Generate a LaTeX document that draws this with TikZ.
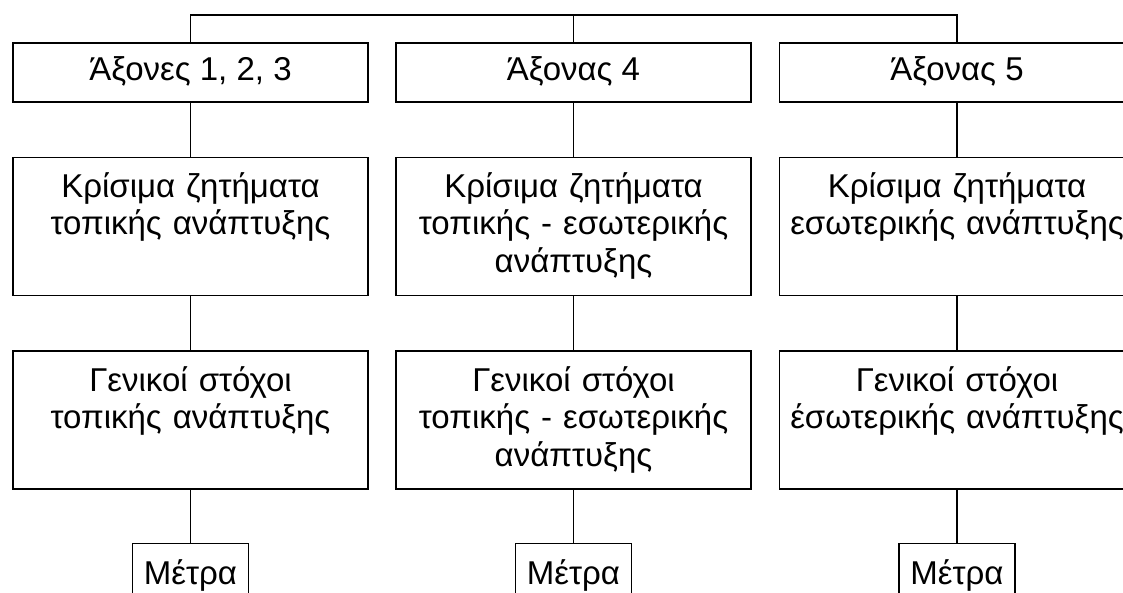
\documentclass[tikz,border=0pt]{standalone}
\usepackage{fontspec}
\setmainfont{Liberation Sans}
\usetikzlibrary{positioning}

\begin{document}
\begin{tikzpicture}[x=1pt, y=1pt, line width=1.6pt, node distance=54pt,
    font=\fontsize{33}{37.5}\selectfont,
    axis/.style = {draw, minimum width=355pt, inner sep=0pt, text height=38pt, text depth=21pt},
    issue/.style = {draw, text width=349pt, align=center, inner xsep=3pt, inner ysep=0pt, text height=40pt, text depth=98pt},
    measure/.style = {draw, minimum width=116pt, inner sep=0pt, text height=41pt, text depth=20pt}]
    \useasboundingbox (0,0) rectangle (1123,-592);

    \node[axis, anchor=north] (a1) at (190.5,-42) {Άξονες 1, 2, 3};
    \node[axis, anchor=north] (a2) at (573.5,-42) {Άξονας 4};
    \node[axis, anchor=north] (a3) at (957,-42) {Άξονας 5};
    \coordinate (bus) at (0,-15);

    \node[issue] (k1)[below=of a1]{Κρίσιμα ζητήματα\\τοπικής ανάπτυξης};
    \node[issue] (k2)[below=of a2]{Κρίσιμα ζητήματα\\τοπικής - εσωτερικής\\ανάπτυξης};
    \node[issue] (k3)[below=of a3]{Κρίσιμα ζητήματα\\εσωτερικής ανάπτυξης};

    \node[issue] (g1)[below=of k1]{Γενικοί στόχοι\\τοπικής ανάπτυξης};
    \node[issue] (g2)[below=of k2]{Γενικοί στόχοι\\τοπικής - εσωτερικής\\ανάπτυξης};
    \node[issue] (g3)[below=of k3]{Γενικοί στόχοι\\έσωτερικής ανάπτυξης};

    \node[measure] (m1)[below=53pt of g1]{Μέτρα};
    \node[measure] (m2)[below=53pt of g2]{Μέτρα};
    \node[measure] (m3)[below=53pt of g3]{Μέτρα};

    \draw (a1.north) |- (a3.north |- bus) -- (a3.north);
    \draw (a2.north) -- (a2.north |- bus);

    \path
    (a1) edge (k1)
    (a2) edge (k2)
    (a3) edge (k3)

    (k1) edge (g1)
    (k2) edge (g2)
    (k3) edge (g3)

    (g1) edge (m1)
    (g2) edge (m2)
    (g3) edge (m3)
    ;
\end{tikzpicture}
\end{document}
